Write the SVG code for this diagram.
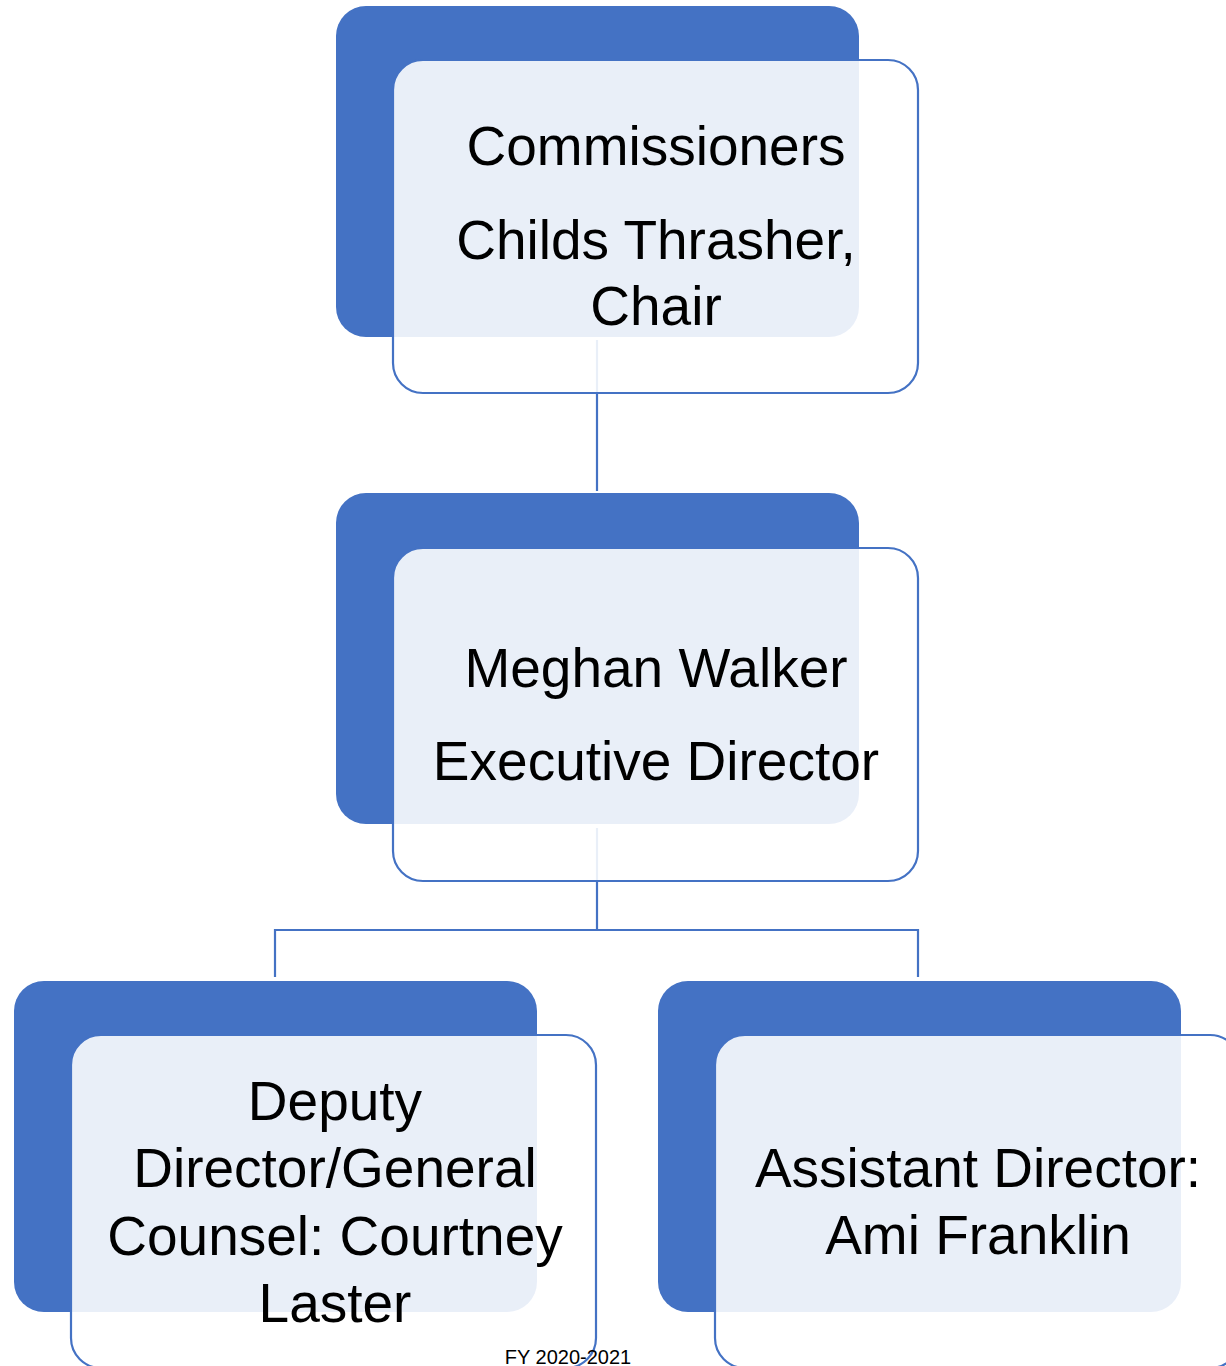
<svg xmlns="http://www.w3.org/2000/svg" width="1226" height="1366" viewBox="0 0 1226 1366">
<style>
.back{fill:#4472C4;}
.front{fill:#FFFFFF;fill-opacity:0.885;stroke:#4472C4;stroke-width:2.2;}
.conn{fill:none;stroke:#4472C4;stroke-width:2.2;}
.lbl{font-family:"Liberation Sans",Arial,sans-serif;font-size:55px;fill:#000000;text-anchor:middle;}
.foot{font-family:"Liberation Sans",Arial,sans-serif;font-size:20px;fill:#000000;text-anchor:middle;}
</style>
<rect width="1226" height="1366" fill="#FFFFFF"/>
<g id="connectors">
<line class="conn" x1="597" y1="340" x2="597" y2="491"/>
<polyline class="conn" points="597,828 597,930"/>
<polyline class="conn" points="275,977 275,930 918,930 918,977"/>
</g>
<g id="node-commissioners">
<rect class="back" x="336" y="6" width="523" height="331" rx="30"/>
<rect class="front" x="393" y="60" width="525" height="333" rx="30"/>
<text class="lbl" x="656" y="165">Commissioners</text>
<text class="lbl" x="656" y="259">Childs Thrasher,</text>
<text class="lbl" x="656" y="325">Chair</text>
</g>
<g id="node-executive">
<rect class="back" x="336" y="493" width="523" height="331" rx="30"/>
<rect class="front" x="393" y="548" width="525" height="333" rx="30"/>
<text class="lbl" x="656" y="687">Meghan Walker</text>
<text class="lbl" x="656" y="780">Executive Director</text>
</g>
<g id="node-deputy">
<rect class="back" x="14" y="981" width="523" height="331" rx="30"/>
<rect class="front" x="71" y="1035" width="525" height="333" rx="30"/>
<text class="lbl" x="335" y="1120">Deputy</text>
<text class="lbl" x="335" y="1187">Director/General</text>
<text class="lbl" x="335" y="1255">Counsel: Courtney</text>
<text class="lbl" x="335" y="1322">Laster</text>
</g>
<g id="node-assistant">
<rect class="back" x="658" y="981" width="523" height="331" rx="30"/>
<rect class="front" x="715" y="1035" width="525" height="333" rx="30"/>
<text class="lbl" x="978" y="1187">Assistant Director:</text>
<text class="lbl" x="978" y="1254">Ami Franklin</text>
</g>
<text class="foot" x="568" y="1364">FY 2020-2021</text>
</svg>
